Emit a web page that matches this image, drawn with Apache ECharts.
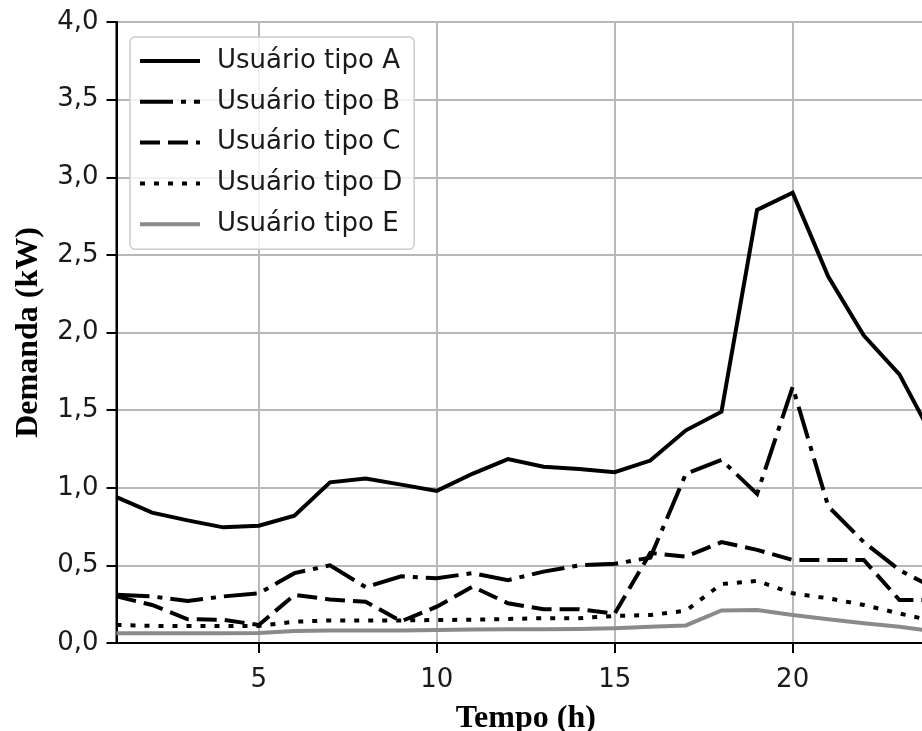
<!DOCTYPE html>
<html>
<head>
<meta charset="utf-8">
<script src="https://cdn.jsdelivr.net/npm/echarts@6/dist/echarts.min.js"></script>
<style>html,body{margin:0;padding:0;background:#fff;}#chart{width:922px;height:731px;}</style>
</head>
<body>
<div id="chart"></div>
<script>
const hours = [1,2,3,4,5,6,7,8,9,10,11,12,13,14,15,16,17,18,19,20,21,22,23,24];
const xTicks = [5,10,15,20];
const yTicks = [0,0.5,1,1.5,2,2.5,3,3.5,4];
const seriesNames = ['Usuário tipo A','Usuário tipo B','Usuário tipo C','Usuário tipo D','Usuário tipo E'];
const userA = [0.94,0.84,0.79,0.745,0.755,0.82,1.035,1.06,1.02,0.98,1.09,1.185,1.135,1.12,1.10,1.175,1.37,1.49,2.79,2.90,2.36,1.98,1.73,1.30];
const userB = [0.31,0.30,0.27,0.30,0.32,0.45,0.50,0.36,0.43,0.417,0.45,0.405,0.46,0.50,0.51,0.55,1.09,1.18,0.96,1.65,0.88,0.65,0.47,0.35];
const userC = [0.30,0.245,0.153,0.15,0.116,0.31,0.28,0.266,0.14,0.234,0.363,0.256,0.217,0.217,0.19,0.58,0.556,0.65,0.60,0.535,0.535,0.535,0.277,0.277];
const userD = [0.116,0.11,0.11,0.11,0.11,0.137,0.145,0.145,0.145,0.148,0.15,0.155,0.16,0.16,0.174,0.18,0.208,0.38,0.40,0.32,0.288,0.245,0.19,0.14];
const userE = [0.062,0.062,0.062,0.063,0.065,0.077,0.08,0.08,0.08,0.084,0.087,0.088,0.088,0.09,0.095,0.105,0.113,0.21,0.213,0.18,0.153,0.127,0.105,0.075];

const values = [userA,userB,userC,userD,userE];
const colors = ['#000000','#000000','#000000','#000000','#8a8a8a'];
const dashes = ['solid',[33,8,5,8],[20,8],[5,9],'solid'];

const chart = echarts.init(document.getElementById('chart'), null, {renderer:'canvas'});
const tickFont = {fontFamily:'DejaVu Sans', fontSize:26, color:'#1a1a1a'};
const titleFont = {fontFamily:'Liberation Serif', fontWeight:'bold', fontSize:32, color:'#000'};

const series = values.map((vals,i)=>({
  name: seriesNames[i],
  type:'line',
  data: hours.map((h,j)=>[h,vals[j]]),
  showSymbol:false,
  symbol:'none',
  lineStyle:{color:colors[i], width:4, type:dashes[i], cap:'butt', join:'miter'},
  itemStyle:{color:colors[i]},
  animation:false,
  z: 2+i
}));

chart.setOption({
  backgroundColor:'#fff',
  animation:false,
  grid:{left:116.5, right:-13, top:22, bottom:88, containLabel:false, outerBoundsMode:'none',
        show:true, borderColor:'#000', borderWidth:2, backgroundColor:'transparent'},
  legend:{
    orient:'vertical', left:130, top:37,
    padding:[9,12,10,8],
    itemWidth:60, itemHeight:14, itemGap:10.8,
    backgroundColor:'rgba(255,255,255,0.8)',
    borderColor:'#cccccc', borderWidth:1.5, borderRadius:5,
    itemStyle:{opacity:0},
    lineStyle:{width:4},
    textStyle:{fontFamily:'DejaVu Sans', fontSize:26, color:'#1a1a1a', lineHeight:30, padding:[0,0,0,12]},
    data: seriesNames
  },
  xAxis:{
    type:'value', min:1, max:24,
    name:'Tempo (h)', nameLocation:'middle', nameGap:60,
    nameTextStyle:titleFont,
    axisLine:{show:true, onZero:false, lineStyle:{color:'#000', width:2}},
    axisTick:{show:true, length:10, customValues:xTicks, lineStyle:{color:'#000', width:2}},
    axisLabel:{...tickFont, margin:24, customValues:xTicks},
    splitLine:{show:true, lineStyle:{color:'#b8b8b8', width:2}}
  },
  yAxis:{
    type:'value', min:0, max:4, interval:0.5,
    name:'Demanda (kW)', nameLocation:'middle', nameGap:72,
    nameTextStyle:titleFont,
    axisLine:{show:true, onZero:false, lineStyle:{color:'#000', width:2}},
    axisTick:{show:true, length:10, lineStyle:{color:'#000', width:2}},
    axisLabel:{...tickFont, margin:18, formatter:v=>v.toFixed(1).replace('.',',')},
    splitLine:{show:true, lineStyle:{color:'#b8b8b8', width:2}}
  },
  series: series
});
</script>
</body>
</html>
